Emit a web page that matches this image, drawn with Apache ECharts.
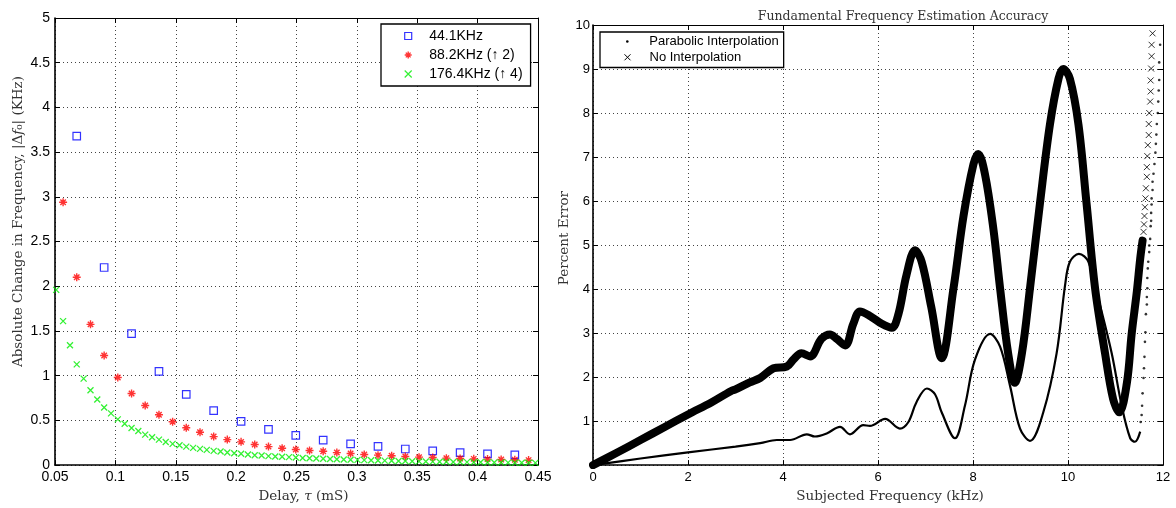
<!DOCTYPE html>
<html><head><meta charset="utf-8">
<script src="https://cdn.jsdelivr.net/npm/echarts@6/dist/echarts.min.js"></script>
<style>html,body{margin:0;padding:0;background:#fff}#c{width:1176px;height:508px}</style>
</head><body><div id="c"></div>
<script>
// ---- Left chart data: delay (ms) and |Δf0| (kHz) ----
const delay441 = [0.0680,0.0907,0.1134,0.1361,0.1587,0.1814,0.2041,0.2268,0.2494,0.2721,0.2948,0.3175,0.3401,0.3628,0.3855,0.4082,0.4308];
const df441 = [3.68,2.21,1.47,1.048,0.79,0.61,0.49,0.40,0.333,0.28,0.237,0.21,0.18,0.16,0.14,0.126,0.115];

const delay882 = [0.0567,0.0680,0.0794,0.0907,0.1020,0.1134,0.1247,0.1361,0.1474,0.1587,0.1701,0.1814,0.1927,0.2041,0.2154,0.2268,0.2381,0.2494,0.2608,0.2721,0.2834,0.2948,0.3061,0.3175,0.3288,0.3401,0.3515,0.3628,0.3741,0.3855,0.3968,0.4082,0.4195,0.4308,0.4422];
const df882 = [2.94,2.10,1.574,1.226,0.98,0.80,0.667,0.563,0.485,0.418,0.367,0.319,0.285,0.26,0.23,0.207,0.189,0.174,0.163,0.155,0.14,0.13,0.119,0.111,0.104,0.096,0.089,0.085,0.078,0.074,0.07,0.067,0.063,0.06,0.056];

const delay1764 = [0.0510,0.0567,0.0624,0.0680,0.0737,0.0794,0.0850,0.0907,0.0964,0.1020,0.1077,0.1134,0.1190,0.1247,0.1304,0.1361,0.1417,0.1474,0.1531,0.1587,0.1644,0.1701,0.1757,0.1814,0.1871,0.1927,0.1984,0.2041,0.2098,0.2154,0.2211,0.2268,0.2324,0.2381,0.2438,0.2494,0.2551,0.2608,0.2664,0.2721,0.2778,0.2834,0.2891,0.2948,0.3005,0.3061,0.3118,0.3175,0.3231,0.3288,0.3345,0.3401,0.3458,0.3515,0.3571,0.3628,0.3685,0.3741,0.3798,0.3855,0.3912,0.3968,0.4025,0.4082,0.4138,0.4195,0.4252,0.4308,0.4365,0.4422,0.4478];
const df1764 = [1.96,1.61,1.34,1.126,0.967,0.837,0.733,0.644,0.578,0.511,0.463,0.415,0.381,0.341,0.311,0.285,0.259,0.237,0.222,0.207,0.193,0.181,0.17,0.159,0.152,0.141,0.133,0.126,0.119,0.111,0.107,0.10,0.096,0.093,0.089,0.085,0.080,0.077,0.074,0.071,0.068,0.065,0.063,0.060,0.058,0.056,0.054,0.052,0.050,0.048,0.046,0.045,0.043,0.042,0.040,0.039,0.038,0.037,0.035,0.034,0.033,0.032,0.031,0.030,0.030,0.029,0.028,0.027,0.027,0.026,0.025];

// ---- Right chart data: subjected frequency (kHz) and percent error ----
const freqNoInterp = [0,0.5,1.0,1.5,2.0,2.5,2.9,3.0,3.3,3.52,3.8,4.08,4.22,4.39,4.57,4.81,4.99,5.13,5.31,5.48,5.62,5.83,6.08,6.29,6.43,6.60,6.78,6.92,7.12,7.34,7.59,7.80,8.01,8.11,8.25,8.43,8.57,8.74,8.88,9.03,9.2,9.41,9.62,9.80,9.90,10.04,10.22,10.39,10.57,10.78,10.95,11.08,11.24,11.34,11.45,11.52,11.57];
const errNoInterp = [0,0.28,0.57,0.86,1.15,1.43,1.68,1.72,1.88,1.98,2.20,2.24,2.40,2.54,2.47,2.87,2.97,2.87,2.72,3.21,3.49,3.39,3.21,3.12,3.43,4.32,4.88,4.62,3.6,2.43,4.02,5.66,6.84,7.07,6.62,5.36,4.02,2.54,1.87,2.54,4.02,5.95,7.74,8.78,9.0,8.78,7.74,5.95,4.02,2.54,1.5,1.20,1.87,2.98,3.95,4.69,5.1];
const freqNoInterpTail = [11.59,11.60,11.61,11.62,11.63,11.64,11.66,11.66,11.67,11.68,11.70,11.70,11.71,11.73,11.74,11.74,11.75,11.76,11.76,11.78];
const errNoInterpTail = [5.30,5.47,5.66,5.86,6.06,6.29,6.55,6.77,7.02,7.27,7.50,7.75,8.00,8.26,8.49,8.74,9.01,9.29,9.55,9.81];

const freqParab = [0,1.0,2.0,3.0,3.52,3.87,4.15,4.5,4.67,4.92,5.2,5.41,5.69,5.83,6.15,6.46,6.64,6.81,7.03,7.2,7.34,7.62,7.83,8.04,8.36,8.57,8.78,8.99,9.2,9.48,9.76,9.94,10.04,10.23,10.43,10.67,10.92,11.13,11.31,11.41,11.52];
const errParab = [0,0.15,0.29,0.42,0.50,0.57,0.57,0.70,0.65,0.72,0.87,0.70,0.91,0.89,1.05,0.83,0.98,1.43,1.74,1.61,1.20,0.61,1.35,2.39,2.98,2.69,1.80,0.83,0.55,1.20,2.54,4.10,4.62,4.80,4.62,3.65,2.54,1.35,0.61,0.53,0.76];
const freqParabTail = [11.53,11.55,11.56,11.57,11.59,11.60,11.61,11.62,11.63,11.64,11.66,11.66,11.67,11.67,11.68,11.69,11.71,11.71,11.73,11.74,11.75,11.75,11.76,11.76,11.78,11.78,11.80,11.82,11.84,11.85,11.86,11.87,11.89,11.90,11.91,11.92,11.92,11.94];
const errParabTail = [0.98,1.14,1.35,1.63,1.98,2.20,2.46,2.80,3.02,3.43,3.65,3.82,4.02,4.25,4.47,4.62,4.84,4.99,5.14,5.43,5.55,5.73,5.92,6.06,6.25,6.44,6.62,6.84,7.10,7.30,7.51,7.75,8.00,8.26,8.51,8.75,9.15,9.55];

// ---- tick settings ----
const leftX = {min:0.05, max:0.45, step:0.05};
const leftY = {min:0, max:5, step:0.5};
const rightX = {min:0, max:12, step:2};
const rightY = {min:0, max:10, step:1};

const zip = (a,b) => a.map((v,i)=>[v,b[i]]);
const fmt = v => String(parseFloat(v.toFixed(2)));
const SANS = 'Liberation Sans, Arial, sans-serif';
const SERIF = 'DejaVu Serif, serif';
const XPATH = 'path://M0,0L10,10M10,0L0,10';
const SQUARE = 'path://M0,0L10,0L10,10L0,10Z';
const STAR = 'path://M5,0L5,10M0,5L10,5M1.6,1.6L8.4,8.4M8.4,1.6L1.6,8.4';
const gridColor = '#444';

function mainAx(gi, r, pos, extra){
  return Object.assign({
    gridIndex: gi, type:'value', position: pos, min:r.min, max:r.max, interval:r.step,
    axisLine:{show:true, onZero:false, lineStyle:{color:'#000', width:1.6}},
    axisTick:{show:true, inside:true, length:5, lineStyle:{color:'#000', width:1}},
    splitLine:{show:true, lineStyle:{color:gridColor, width:1, type:[1,3]}},
    axisLabel:{color:'#000', fontFamily:SANS, fontSize:14, formatter: fmt}
  }, extra||{});
}
function mirrorAx(gi, r, pos){
  return {
    gridIndex: gi, type:'value', position: pos, min:r.min, max:r.max, interval:r.step,
    axisLine:{show:true, onZero:false, lineStyle:{color:'#000', width:1}},
    axisTick:{show:true, inside:true, length:5, lineStyle:{color:'#000', width:1}},
    splitLine:{show:false}, axisLabel:{show:false}
  };
}
const FS = 13.5;
const rich = {i:{fontFamily:SERIF, fontSize:FS, color:'#333', fontStyle:'italic'}};
const nameStyle = (pad) => ({fontFamily:SERIF, fontSize:FS, color:'#333', rich, padding:pad});

const option = {
  animation:false,
  title:{text:'Fundamental Frequency Estimation Accuracy', left:898, top:5, textAlign:'center',
    textStyle:{fontFamily:SERIF, fontSize:12.5, fontWeight:'normal', color:'#333'}},
  grid:[{left:55, top:18, width:483, height:450}, {left:593, top:25, width:570, height:449}],
  xAxis:[
    mainAx(0, leftX, 'bottom', {name:'Delay, {i|τ} (mS)', nameLocation:'middle', nameGap:22, nameTextStyle:nameStyle([0,0,0,14]),
      axisLabel:{color:'#000', fontFamily:SANS, fontSize:14, margin:5, formatter: fmt}}),
    mirrorAx(0, leftX, 'top'),
    mainAx(1, rightX, 'bottom', {name:'Subjected Frequency (kHz)', nameLocation:'middle', nameGap:19, nameTextStyle:nameStyle([0,0,0,24]),
      axisLabel:{color:'#000', fontFamily:SANS, fontSize:13, margin:6, formatter: fmt}}),
    mirrorAx(1, rightX, 'top')
  ],
  yAxis:[
    mainAx(0, leftY, 'left', {name:'Absolute Change in Frequency, |Δ{i|f}₀| (KHz)', nameLocation:'middle', nameGap:30,
      nameTextStyle:nameStyle([0,0,0,40]),
      axisLabel:{color:'#000', fontFamily:SANS, fontSize:14, margin:5, formatter: fmt}}),
    mirrorAx(0, leftY, 'right'),
    mainAx(1, rightY, 'left', {name:'Percent Error', nameLocation:'middle', nameGap:20,
      nameTextStyle:nameStyle([0,0,0,14]),
      axisLabel:{color:'#000', fontFamily:SANS, fontSize:13, margin:3, showMinLabel:false, formatter: fmt}}),
    mirrorAx(1, rightY, 'right')
  ],
  legend:[
    {left:381, top:24, orient:'vertical', selectedMode:false, padding:[5,8,5,23], itemWidth:32, itemHeight:7, itemGap:5,
     borderColor:'#000', borderWidth:1.3, backgroundColor:'#fff', symbolKeepAspect:true,
     textStyle:{fontFamily:SANS, fontSize:14, color:'#000'},
     data:[
      {name:'44.1KHz', icon:SQUARE, itemStyle:{color:'rgba(0,0,0,0)', borderColor:'#0000ff', borderWidth:1.2}},
      {name:'88.2KHz (↑ 2)', icon:STAR, itemStyle:{color:'#ff0000', borderColor:'#ff0000', borderWidth:1.4}},
      {name:'176.4KHz (↑ 4)', icon:XPATH, itemStyle:{color:'#00ff00', borderColor:'#00ee00', borderWidth:1.2}}
     ]},
    {left:600, top:32, orient:'vertical', selectedMode:false, padding:[3,5,19.5,26], itemWidth:34, itemHeight:2.6,
     borderColor:'#000', borderWidth:1.3, backgroundColor:'#fff', symbolKeepAspect:true, z:4,
     textStyle:{fontFamily:SANS, fontSize:13, color:'#000'},
     data:[{name:'Parabolic Interpolation', icon:'circle', itemStyle:{color:'#000', borderWidth:0}}]},
    {left:600, top:50.8, orient:'vertical', selectedMode:false, padding:[0,5,0,24], itemWidth:34, itemHeight:6,
     symbolKeepAspect:true, z:5,
     textStyle:{fontFamily:SANS, fontSize:13, color:'#000'},
     data:[{name:'No Interpolation', icon:XPATH, itemStyle:{color:'#000', borderColor:'#000', borderWidth:1}}]}
  ],
  series:[
    {name:'44.1KHz', type:'scatter', xAxisIndex:0, yAxisIndex:0, data:zip(delay441, df441),
     symbol:'rect', symbolSize:7.5, itemStyle:{color:'rgba(0,0,0,0)', borderColor:'#0000ff', borderWidth:1.2}},
    {name:'88.2KHz (↑ 2)', type:'scatter', xAxisIndex:0, yAxisIndex:0, data:zip(delay882, df882),
     symbol:STAR, symbolSize:8, itemStyle:{color:'#ff0000', borderColor:'#ff0000', borderWidth:1.4}},
    {name:'176.4KHz (↑ 4)', type:'scatter', xAxisIndex:0, yAxisIndex:0, data:zip(delay1764, df1764),
     symbol:XPATH, symbolSize:6, itemStyle:{color:'#00ff00', borderColor:'#00ee00', borderWidth:1.3}},

    {name:'No Interpolation', type:'line', xAxisIndex:2, yAxisIndex:2, data:zip(freqNoInterp, errNoInterp),
     showSymbol:false, smooth:0.35, itemStyle:{color:'#000'}, lineStyle:{color:'#000', width:8, join:'round', cap:'round'}},
    {name:'No Interpolation', type:'scatter', xAxisIndex:2, yAxisIndex:2, data:zip(freqNoInterpTail, errNoInterpTail),
     symbol:XPATH, symbolSize:6, itemStyle:{color:'#000', borderColor:'#000', borderWidth:1}},
    {name:'Parabolic Interpolation', type:'line', xAxisIndex:2, yAxisIndex:2, data:zip(freqParab, errParab),
     showSymbol:false, smooth:0.35, itemStyle:{color:'#000'}, lineStyle:{color:'#000', width:2.2}},
    {name:'Parabolic Interpolation', type:'scatter', xAxisIndex:2, yAxisIndex:2, data:zip(freqParabTail, errParabTail),
     symbol:'circle', symbolSize:2.6, itemStyle:{color:'#000'}}
  ]
};
const chart = echarts.init(document.getElementById('c'), null, {renderer:'canvas'});
chart.setOption(option);
</script>
</body></html>
